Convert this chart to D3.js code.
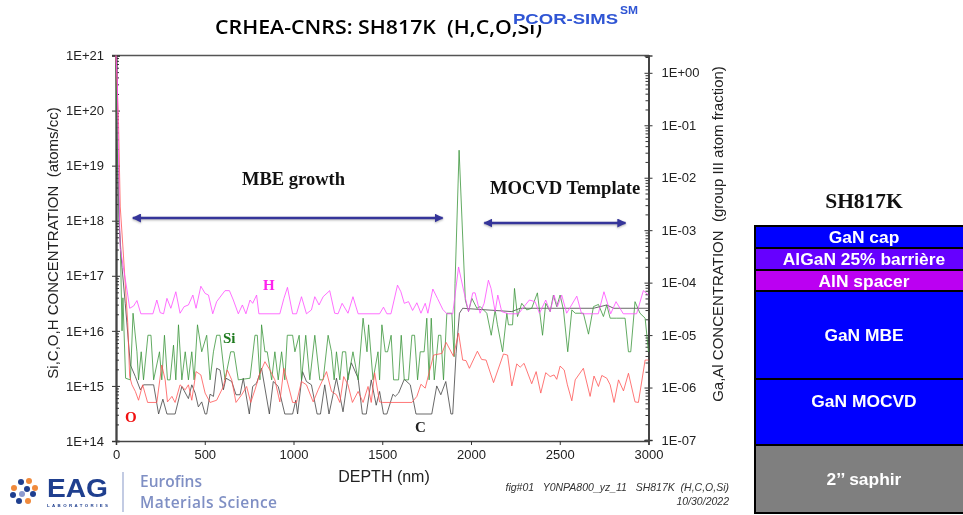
<!DOCTYPE html>
<html>
<head>
<meta charset="utf-8">
<script src="https://cdn.jsdelivr.net/npm/d3@7"></script>
<style>
  html, body { margin: 0; padding: 0; background: #fff; overflow: hidden; }
  svg { display: block; filter: blur(0.3px); }
</style>
</head>
<body>
<svg id="chart" width="963" height="515"></svg>
<script>
// depth (nm) and log10 of concentration
const hDepth = [0,8,15,20,24,45,62,77,99,118,140,208,230,249,268,287,309,337,361,384,408,433,451,478,502,521,545,567,614,639,661,689,712,732,755,770,792,805,923,946,966,995,1017,1045,1073,1101,1120,1144,1167,1204,1232,1251,1274,1307,1335,1364,1485,1507,1526,1549,1586,1605,1624,1648,1671,1695,1718,1742,1757,1785,1811,1841,1864,1897,1930,1958,1986,2010,2023,2051,2074,2098,2113,2136,2151,2173,2211,2268,2296,2329,2361,2386,2421,2446,2468,2487,2511,2539,2596,2623,2717,2749,2787,2817,2858,2933,2971,3000];
const hLog = [21,20.5,19,18,17.5,17.08,16.74,16.41,16.45,16.55,16.31,16.31,16.56,16.33,16.31,16.59,16.41,16.71,16.32,16.44,16.47,16.65,16.41,16.81,16.68,16.65,16.31,16.53,16.73,16.73,16.56,16.31,16.47,16.31,16.56,16.5,16.65,16.31,16.31,16.59,16.79,16.31,16.31,16.62,16.31,16.38,16.62,16.47,16.62,16.73,16.32,16.31,16.5,16.32,16.62,16.31,16.31,16.43,16.31,16.31,16.83,16.71,16.5,16.53,16.37,16.51,16.32,16.5,16.32,16.76,16.59,16.39,16.31,16.31,17.16,16.74,16.35,16.69,16.69,16.32,16.5,16.92,16.77,16.35,16.65,16.35,16.31,16.31,16.43,16.56,16.53,16.32,16.56,16.35,16.65,16.44,16.65,16.32,16.63,16.31,16.31,16.71,16.31,16.53,16.31,16.31,16.73,16.65];

const siDepth = [0,5,10,18,25,34,39,54,81,96,118,127,142,155,180,197,212,245,258,273,290,305,324,337,352,371,390,408,427,440,459,483,511,530,549,567,586,614,646,665,689,755,783,796,811,820,839,852,877,895,914,933,951,965,995,1008,1032,1045,1069,1092,1120,1148,1167,1195,1214,1229,1242,1261,1276,1294,1307,1335,1364,1392,1414,1423,1448,1476,1485,1498,1517,1530,1550,1564,1592,1607,1624,1648,1667,1682,1699,1714,1736,1751,1764,1776,1793,1817,1830,1845,1864,1892,1905,1910,1933,1968,1986,2005,2033,2052,2089,2114,2136,2149,2178,2202,2211,2234,2245,2262,2286,2314,2342,2374,2403,2421,2446,2464,2483,2502,2521,2545,2568,2587,2633,2662,2690,2718,2746,2765,2784,2821,2868,2887,2900,2924,2952,2981,3000];
const siLog = [21,20,19,18,17.5,16,16.6,15.14,15.11,16.32,15.62,15.11,15.62,15.11,15.92,15.92,15.11,15.62,15.11,15.92,15.11,15.11,15.74,15.11,16.11,15.11,15.62,15.11,15.62,15.11,16.11,15.62,15.92,15.11,15.62,15.92,15.92,15.11,15.62,15.62,15.11,15.14,15.92,15.92,15.11,16.11,15.62,15.62,15.11,15.62,15.11,15.62,15.11,15.92,15.92,15.62,15.92,15.11,15.92,15.11,15.92,15.11,15.11,15.92,15.62,15.11,15.62,15.11,15.62,15.62,15.11,15.62,15.11,16.23,15.62,16.11,15.11,15.62,15.11,16.11,15.62,15.62,15.92,15.11,15.11,15.92,15.11,15.11,15.92,15.92,15.11,15.62,15.62,16.23,15.11,16.23,15.11,15.92,15.92,15.11,16.32,16.32,15.53,16.86,19.28,16.56,16.35,16.59,16.41,16.44,16.32,15.92,16.38,16.11,15.62,16.32,16.11,16.11,16.77,16.26,16.5,16.38,16.41,16.69,15.92,16.5,16.35,16.65,16.44,16.65,16.38,15.62,16.38,16.32,16.32,15.94,16.44,16.48,16.26,16.47,16.23,16.23,16.23,15.62,15.62,16.53,16.32,16.23,15.62];

const oDepth = [0,14,24,40,66,77,90,109,127,150,178,230,258,277,290,315,333,361,390,408,427,451,478,502,530,567,605,627,652,676,708,736,759,783,811,839,867,895,923,946,970,995,1017,1045,1073,1111,1139,1186,1214,1242,1261,1283,1307,1332,1364,1392,1420,1438,1457,1485,1503,1667,1695,1718,1742,1789,1836,1860,1901,1930,1953,1972,1991,2036,2060,2085,2127,2183,2206,2230,2258,2277,2299,2342,2367,2393,2421,2446,2468,2483,2502,2525,2543,2568,2587,2633,2671,2693,2718,2737,2765,2784,2806,2831,2859,2887,2924,2943,2981,3000];
const oLog = [21,19.8,18.25,17.47,16.15,15.17,15.02,14.9,14.74,15.02,14.7,14.7,15.38,15.11,14.71,14.81,14.7,15.02,14.93,15.02,14.74,15.26,15.2,14.87,14.7,14.74,14.99,15.29,15.11,14.7,14.84,14.99,14.7,14.93,15.23,15.44,15.29,15.11,14.71,15.32,15.02,14.7,14.7,15.08,15.02,14.71,14.93,15.26,14.9,14.84,14.7,15.17,15.02,14.7,14.9,14.7,14.99,14.7,15.24,14.71,14.7,14.7,14.81,15.03,14.96,15.56,15.59,15.79,15.54,15.96,15.47,15.46,15.32,15.63,15.48,15.47,15.06,15.58,15.56,15,15.4,15.34,15.41,15.04,15.26,14.87,15.24,15.17,15.2,15.12,15.36,15.29,15.02,14.73,15.11,15.32,14.81,15.18,14.99,15.19,15.14,15.02,14.7,15.11,14.91,15.23,14.71,14.7,15.47,15.47];

const cDepth = [0,6,18,34,52,81,109,137,155,212,240,264,287,333,371,408,427,446,464,483,502,511,530,549,567,586,605,620,652,676,699,717,751,770,792,820,864,886,914,951,995,1013,1023,1051,1073,1101,1133,1152,1176,1200,1242,1279,1307,1326,1364,1388,1410,1438,1466,1485,1507,1526,1560,1573,1592,1624,1658,1690,1779,1807,1830,1858,1887,1897,1916,1935,1953,2230,2277,2390,2690,2765,2803,3000];
const cLog = [21,19.5,17.9,17.15,16.5,15.38,15.17,14.93,15.02,15.02,14.49,14.76,14.49,14.49,14.99,14.77,15.02,14.87,14.62,14.71,14.49,14.49,14.85,14.81,15.32,15.29,14.93,15.14,15.08,14.84,14.84,15.14,14.49,14.99,15.05,15.32,14.49,15.08,14.99,14.49,14.49,14.74,14.49,15.26,15.08,15.02,14.49,14.49,15.02,14.49,15.14,14.53,15.17,15.42,15.14,14.49,14.49,15.11,14.65,14.9,14.49,14.49,14.85,14.81,14.87,15.12,15.02,14.49,14.49,15,14.84,15.08,14.49,14.49,15.59,16.32,16.41,16.35,16.41,16.41,16.41,16.47,16.41,16.41];

// tick labels
const depthTicks = [0,500,1000,1500,2000,2500,3000];
const leftExp = [14,15,16,17,18,19,20,21];
const rightExp = [0,-1,-2,-3,-4,-5,-6,-7];

// sample structure on the right
const layerNames = ['GaN cap','AlGaN 25% barrière','AlN spacer','GaN MBE','GaN MOCVD','2’’ saphir'];
const layerThickness = [22,22,21,88,66,68];
const layerColors = ['#0000ff','#6600ff','#bb00f2','#0000ff','#0000ff','#7f7f7f'];

const svg = d3.select('#chart');
const sans = '"Liberation Sans", Arial, sans-serif';
const serif = '"Liberation Serif", "Times New Roman", serif';

const x = d3.scaleLinear().domain([0, 3000]).range([116, 648.5]);
const yLeft = d3.scaleLog().domain([1e14, 1e21]).range([441, 55.5]);
const yRight = d3.scaleLog().domain([1e-7, Math.pow(10, 0.33)]).range([440, 55.5]);

const minorOf = (scale) => {
    const [lo, hi] = scale.domain().map(Math.log10);
    const out = [];
    for (let e = Math.floor(lo); e < Math.ceil(hi); e++) {
        for (let m = 2; m < 10; m++) {
            const v = m * Math.pow(10, e);
            if (v < scale.domain()[1]) out.push(v);
        }
    }
    return out;
};

function styleAxis(g) {
    g.selectAll('path').attr('stroke', '#444').attr('stroke-width', 1.6);
    g.selectAll('line').attr('stroke', '#333').attr('stroke-width', 1);
    g.selectAll('text').attr('fill', '#222').attr('font-family', sans).attr('font-size', 13);
}

// top frame line
svg.append('line').attr('x1', 112).attr('x2', 649).attr('y1', 55.5).attr('y2', 55.5)
    .attr('stroke', '#555').attr('stroke-width', 1.6);

// left axis
svg.append('g').attr('transform', 'translate(116,0)')
    .call(d3.axisLeft(yLeft).tickValues(leftExp.map(e => Math.pow(10, e))).tickSizeOuter(0).tickSize(4).tickPadding(8)
        .tickFormat(d => '1E+' + Math.round(Math.log10(d))))
    .call(styleAxis);
svg.append('g').attr('transform', 'translate(116,0)')
    .call(d3.axisRight(yLeft).tickValues(leftExp.map(e => Math.pow(10, e))).tickSizeOuter(0).tickSize(4).tickFormat(''))
    .call(styleAxis);
svg.append('g').attr('transform', 'translate(116,0)')
    .call(d3.axisRight(yLeft).tickValues(minorOf(yLeft)).tickSizeOuter(0).tickSize(3).tickFormat(''))
    .call(styleAxis);

// right axis
const rightLabel = d => {
    const e = Math.round(Math.log10(d));
    return '1E' + (e < 0 ? '-' : '+') + String(Math.abs(e)).padStart(2, '0');
};
svg.append('g').attr('transform', 'translate(648.5,0)')
    .call(d3.axisRight(yRight).tickValues(rightExp.map(e => Math.pow(10, e))).tickSizeOuter(0).tickSize(4).tickPadding(9)
        .tickFormat(rightLabel))
    .call(styleAxis);
svg.append('g').attr('transform', 'translate(648.5,0)')
    .call(d3.axisLeft(yRight).tickValues(rightExp.map(e => Math.pow(10, e))).tickSizeOuter(0).tickSize(4).tickFormat(''))
    .call(styleAxis);
svg.append('g').attr('transform', 'translate(648.5,0)')
    .call(d3.axisLeft(yRight).tickValues(minorOf(yRight)).tickSizeOuter(0).tickSize(3).tickFormat(''))
    .call(styleAxis);

// bottom axis
svg.append('g').attr('transform', 'translate(0,441)')
    .call(d3.axisBottom(x).tickValues(depthTicks).tickSizeOuter(0).tickSize(4).tickPadding(5).tickFormat(d3.format('d')))
    .call(styleAxis);

// profiles
const line = d3.line().x(d => x(d[0])).y(d => yLeft(Math.pow(10, d[1])));
const drawProfile = (depth, logs, color, width) => svg.append('path')
    .datum(depth.map((d, i) => [d, logs[i]]))
    .attr('fill', 'none')
    .attr('stroke', color)
    .attr('stroke-width', width)
    .attr('stroke-opacity', 0.8)
    .attr('stroke-linejoin', 'round')
    .attr('d', line);

drawProfile(cDepth, cLog, '#444444', 1);
drawProfile(siDepth, siLog, '#3c963c', 1);
drawProfile(oDepth, oLog, '#ff5555', 1);
drawProfile(hDepth, hLog, '#ff4cff', 1);

// text helper
const label = (txt, px, py, opts = {}) => svg.append('text')
    .attr('x', px).attr('y', py)
    .attr('font-family', opts.family || sans)
    .attr('font-size', opts.size || 12)
    .attr('font-weight', opts.weight || 'normal')
    .attr('font-style', opts.style || 'normal')
    .attr('text-anchor', opts.anchor || 'start')
    .attr('fill', opts.fill || '#111')
    .text(txt);

// title and axis titles
label('CRHEA-CNRS: SH817K  (H,C,O,Si)', 215, 34, { family: '"Open Sans", sans-serif', size: 19.5, weight: 600, fill: '#000' })
    .attr('textLength', 327).attr('lengthAdjust', 'spacingAndGlyphs').style('white-space', 'pre');
svg.append('rect').attr('x', 513).attr('y', 4).attr('width', 127).attr('height', 21).attr('fill', '#fff');
label('PCOR-SIMS', 513, 23.5, { size: 15.5, weight: 'bold', fill: '#2f55d4' }).attr('textLength', 105).attr('lengthAdjust', 'spacingAndGlyphs');
label('SM', 620, 14, { size: 10, weight: 'bold', fill: '#2f55d4' }).attr('textLength', 18).attr('lengthAdjust', 'spacingAndGlyphs');

label('DEPTH (nm)', 384, 482, { size: 16, anchor: 'middle', fill: '#222' });
label('Si,C,O,H CONCENTRATION  (atoms/cc)', 0, 0, { size: 15, anchor: 'middle', fill: '#222' })
    .attr('transform', 'translate(58,243) rotate(-90)').style('white-space', 'pre');
label('Ga,Al CONCENTRATION  (group III atom fraction)', 0, 0, { size: 15, anchor: 'middle', fill: '#222' })
    .attr('transform', 'translate(723,234) rotate(-90)').style('white-space', 'pre');

// annotations
label('MBE growth', 242, 185, { family: serif, size: 18.5, weight: 'bold' });
label('MOCVD Template', 490, 194, { family: serif, size: 18.6, weight: 'bold' });
label('H', 263, 290, { family: serif, size: 15, weight: 'bold', fill: '#ff22ee' });
label('Si', 223, 343, { family: serif, size: 15, weight: 'bold', fill: '#1e7a1e' });
label('O', 125, 422, { family: serif, size: 15, weight: 'bold', fill: '#f01010' });
label('C', 415, 432, { family: serif, size: 15, weight: 'bold', fill: '#222' });

// double arrows
const defs = svg.append('defs');
defs.append('marker').attr('id', 'arrow').attr('viewBox', '0 -5 10 10')
    .attr('refX', 9).attr('refY', 0).attr('markerWidth', 9).attr('markerHeight', 9)
    .attr('markerUnits', 'userSpaceOnUse').attr('orient', 'auto-start-reverse')
    .append('path').attr('d', 'M0,-5L10,0L0,5Z').attr('fill', '#35359a');
const arrow = (d0, d1, py) => svg.append('line')
    .attr('x1', x(d0)).attr('x2', x(d1)).attr('y1', py).attr('y2', py)
    .attr('stroke', '#35359a').attr('stroke-width', 2.4)
    .attr('marker-start', 'url(#arrow)').attr('marker-end', 'url(#arrow)')
    .style('filter', 'drop-shadow(0.5px 1px 1px rgba(0,0,0,0.3))');
arrow(95, 1840, 218);
arrow(2075, 2870, 223);

// sample stack
label('SH817K', 864, 208, { family: serif, size: 21.5, weight: 'bold', anchor: 'middle' });
const stackEdges = d3.cumsum(layerThickness);
const stackY = d3.scaleLinear().domain([0, d3.sum(layerThickness)]).range([226, 513]);
const layers = svg.append('g').selectAll('g').data(layerNames).join('g');
layers.append('rect')
    .attr('x', 755).attr('width', 210)
    .attr('y', (d, i) => stackY(i ? stackEdges[i - 1] : 0))
    .attr('height', (d, i) => stackY(stackEdges[i]) - stackY(i ? stackEdges[i - 1] : 0))
    .attr('fill', (d, i) => layerColors[i])
    .attr('stroke', '#000').attr('stroke-width', 2);
layers.append('text')
    .attr('x', 864)
    // the MOCVD label sits above the middle of its layer
    .attr('y', (d, i) => (stackY(i ? stackEdges[i - 1] : 0) + stackY(stackEdges[i])) / 2 + 6 - (i === 4 ? 11 : 0))
    .attr('text-anchor', 'middle')
    .attr('font-family', sans).attr('font-weight', 'bold').attr('font-size', 17.4)
    .attr('fill', '#fff')
    .text(d => d);

// footer
label('fig#01   Y0NPA800_yz_11   SH817K  (H,C,O,Si)', 729, 491, { size: 10.5, style: 'italic', anchor: 'end', fill: '#333' }).style('white-space', 'pre');
label('10/30/2022', 729, 505, { size: 10.5, style: 'italic', anchor: 'end', fill: '#333' });

// EAG logo
const logoDots = [[21,482,'#1f3f8f'],[29,481,'#f08a3c'],[14,488,'#f08a3c'],[35,488,'#f08a3c'],[27,489,'#1f3f8f'],[22,494,'#8d9bd0'],[33,494,'#1f3f8f'],[13,495,'#1f3f8f'],[19,501,'#1f3f8f'],[28,501,'#f08a3c']];
svg.append('g').selectAll('circle').data(logoDots).join('circle')
    .attr('cx', d => d[0]).attr('cy', d => d[1]).attr('r', 3).attr('fill', d => d[2]);
label('EAG', 47, 497, { size: 26.5, weight: 'bold', fill: '#1f3f8f' }).attr('textLength', 61).attr('lengthAdjust', 'spacingAndGlyphs');
label('LABORATORIES', 47, 507, { size: 4.4, weight: 'bold', fill: '#1f3f8f' }).attr('textLength', 61);
svg.append('line').attr('x1', 123).attr('x2', 123).attr('y1', 472).attr('y2', 512).attr('stroke', '#9aa8d0').attr('stroke-width', 1.2);
label('Eurofins', 140, 487, { family: '"Open Sans", sans-serif', size: 15.5, weight: 600, fill: '#7f8fc4' });
label('Materials Science', 140, 508, { family: '"Open Sans", sans-serif', size: 15.5, weight: 600, fill: '#7f8fc4' }).attr('textLength', 137);
</script>
</body>
</html>
